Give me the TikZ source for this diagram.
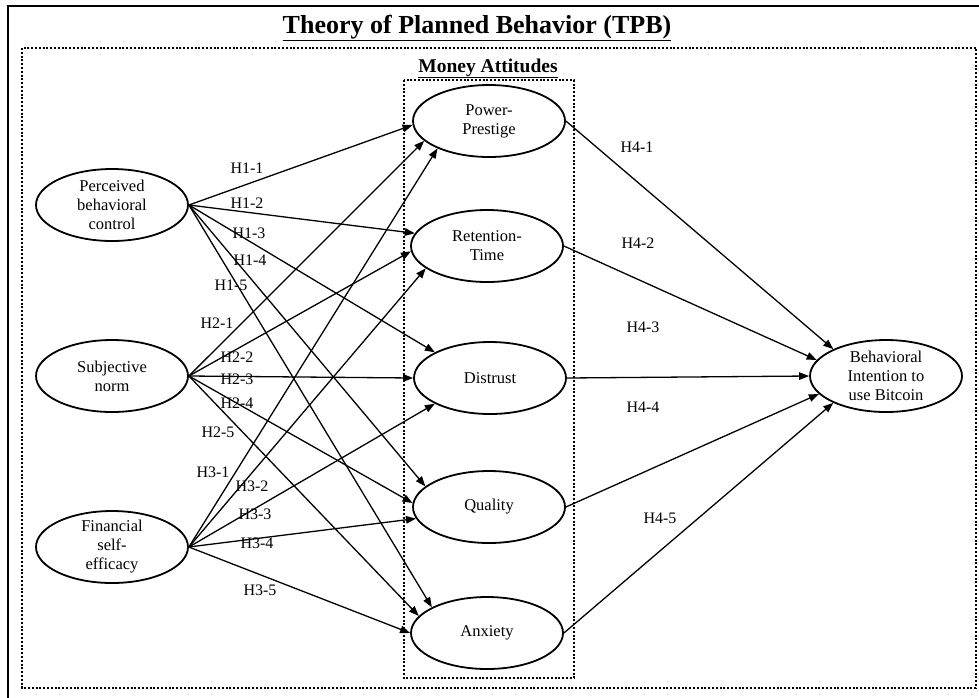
\documentclass[tikz,border=0pt]{standalone}
\usepackage{fontspec}
\setmainfont{Liberation Serif}
\usetikzlibrary{shapes.geometric, arrows.meta, positioning}

\begin{document}
\begin{tikzpicture}[x=1pt, y=-1pt,
  latent/.style={ellipse, draw, line width=1.8pt,
    minimum width=152pt, minimum height=72pt,
    inner xsep=0pt, inner ysep=-6pt, align=center,
    font=\fontsize{16.5}{19}\selectfont},
  hyparrow/.style={-{Triangle[length=10pt, width=7.5pt]}, line width=1.3pt},
  hyp/.style={font=\fontsize{16}{18}\selectfont, inner sep=0pt},
  dotbox/.style={line width=2pt, dash pattern=on 2pt off 1.8pt}
]
\useasboundingbox (0,0) rectangle (979,697);

% frames
\draw[line width=2.2pt] (8,6) rectangle (995,712);
\draw[dotbox] (22,48) rectangle (976,688);
\draw[dotbox] (404,80) rectangle (574,678);
\node[anchor=base, font=\fontsize{26}{30}\selectfont\bfseries] (title)
  at (477,33) {\underline{Theory of Planned Behavior (TPB)}};
\node[anchor=base, font=\fontsize{19.5}{22}\selectfont\bfseries] (MA)
  at (488,72) {\underline{Money Attitudes}};

% constructs
\node[latent] (PBC) at (112,205) {Perceived\\behavioral\\control};
\node[latent] (SN)  at (112,376) {Subjective\\norm};
\node[latent] (FSE) at (112,547) {Financial\\self-\\efficacy};
\node[latent] (PP)  at (489,121) {Power-\\Prestige};
\node[latent] (RT)  at (487,246) {Retention-\\Time};
\node[latent] (DT)  at (490,378) {Distrust};
\node[latent] (QL)  at (489,507) {Quality};
\node[latent] (AX)  at (487,633) {Anxiety};
\node[latent] (BI)  at (886,376) {Behavioral\\Intention to\\use Bitcoin};

% hypotheses
\draw[hyparrow] (PBC.east) -- (PP.183);
\draw[hyparrow] (PBC.east) -- (RT.170);
\draw[hyparrow] (PBC.east) -- (DT.155);
\draw[hyparrow] (PBC.east) -- (QL.162);
\draw[hyparrow] (PBC.east) -- (AX.155);
\draw[hyparrow] (SN.east) -- (PP.197);
\draw[hyparrow] (SN.east) -- (RT.184);
\draw[hyparrow] (SN.east) -- (DT.west);
\draw[hyparrow] (SN.east) -- (QL.177);
\draw[hyparrow] (SN.east) -- (AX.166);
\draw[hyparrow] (FSE.east) -- (PP.208);
\draw[hyparrow] (FSE.east) -- (RT.200);
\draw[hyparrow] (FSE.east) -- (DT.205);
\draw[hyparrow] (FSE.east) -- (QL.189);
\draw[hyparrow] (FSE.east) -- (AX.west);
\draw[hyparrow] (PP.east) -- (BI.153);
\draw[hyparrow] (RT.east) -- (BI.167);
\draw[hyparrow] (DT.east) -- (BI.west);
\draw[hyparrow] (QL.east) -- (BI.195);
\draw[hyparrow] (AX.east) -- (BI.207);

\node[hyp] (h11) at (247,168) {H1-1};
\node[hyp] (h12) at (247,203) {H1-2};
\node[hyp] (h13) at (249,233) {H1-3};
\node[hyp] (h14) at (250,260) {H1-4};
\node[hyp] (h15) at (231,285) {H1-5};
\node[hyp] (h21) at (217,323) {H2-1};
\node[hyp] (h22) at (237,357) {H2-2};
\node[hyp] (h23) at (237,379) {H2-3};
\node[hyp] (h24) at (237,403) {H2-4};
\node[hyp] (h25) at (218,432) {H2-5};
\node[hyp] (h31) at (213,472) {H3-1};
\node[hyp] (h32) at (252,486) {H3-2};
\node[hyp] (h33) at (255,514) {H3-3};
\node[hyp] (h34) at (257,543) {H3-4};
\node[hyp] (h35) at (260,590) {H3-5};
\node[hyp] (h41) at (637,147) {H4-1};
\node[hyp] (h42) at (638,243) {H4-2};
\node[hyp] (h43) at (643,327) {H4-3};
\node[hyp] (h44) at (643,407) {H4-4};
\node[hyp] (h45) at (660,518) {H4-5};
\end{tikzpicture}
\end{document}
